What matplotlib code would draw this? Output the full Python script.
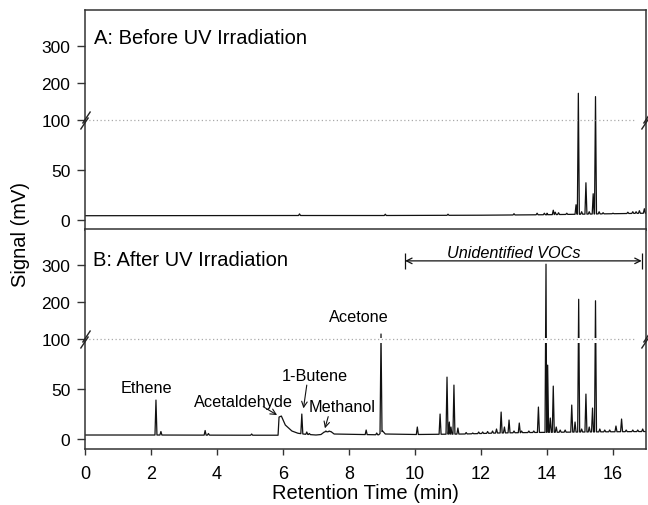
import numpy as np
import matplotlib
matplotlib.use("Agg")
import matplotlib.pyplot as plt
from matplotlib.path import Path
from matplotlib.transforms import blended_transform_factory

plt.rcParams['font.family'] = ['Liberation Sans', 'DejaVu Sans']

# ---- panel A: before UV irradiation ----
base_a_t = [0.0, 6.4, 9.0, 12.0, 14.0, 15.0, 17.0]
base_a_v = [4.0, 4.2, 4.2, 4.5, 5.0, 5.5, 6.5]
peak_a_t = [6.5, 9.1, 11.0, 13.0, 13.7, 13.92, 14.0, 14.19, 14.25, 14.35, 14.6,
            14.88, 14.95, 15.05, 15.18, 15.28, 15.40, 15.47, 15.58, 15.7, 16.0,
            16.45, 16.6, 16.7, 16.8, 16.95]
peak_a_h = [5.8, 5.5, 5.5, 6.0, 6.5, 6.5, 6.5, 9.5, 7.5, 7.0, 6.5,
            15, 172, 8, 37, 8, 26, 163, 8, 7, 6.5,
            7.5, 8, 8, 9, 11]

# ---- panel B: after UV irradiation ----
# baseline incl. acetaldehyde tailing hump and methanol bump
base_b_t = [0.0, 2.0, 5.0, 5.85, 5.88, 5.95, 6.07, 6.27, 6.45, 6.65, 7.0,
            7.15, 7.25, 7.45, 7.55, 8.9, 9.02, 9.1, 10.0, 11.5, 12.5, 13.5,
            15.0, 17.0]
base_b_v = [4.0, 4.0, 3.8, 3.8, 22.0, 23.0, 14.0, 8.0, 5.8, 4.8, 4.0,
            4.5, 7.0, 7.5, 5.0, 4.2, 8.0, 5.0, 4.5, 5.0, 6.0, 6.5,
            7.0, 7.5]
peak_b_t = [2.15, 2.30, 3.64, 3.74, 5.05, 6.57, 6.72, 6.80, 7.30, 7.40, 8.52,
            8.84, 8.97, 10.07, 10.76, 10.97, 11.04, 11.09, 11.18, 11.30, 11.55,
            11.75, 11.93, 12.05, 12.2, 12.35, 12.47, 12.61, 12.71, 12.85, 13.0,
            13.16, 13.23, 13.45, 13.6, 13.74, 13.97, 14.02, 14.10, 14.19, 14.28,
            14.4, 14.55, 14.75, 14.85, 14.96, 15.05, 15.18, 15.28, 15.38, 15.47,
            15.6, 15.75, 15.9, 16.09, 16.26, 16.4, 16.6, 16.75, 16.9]
peak_b_h = [39, 7.5, 8.5, 5.5, 5.0, 25, 7, 5.5, 8, 8, 9,
            6, 114, 12, 25, 62, 17, 12, 54, 11, 6.5,
            6, 7, 7, 7.5, 8, 10, 27, 12, 19, 8,
            16, 8, 8, 8, 32, 303, 74, 21, 53, 12,
            9, 9, 34, 17, 208, 10, 45, 12, 31, 204,
            10, 9, 9, 13, 20, 9, 9, 9, 10]

x_ticks = [0, 2, 4, 6, 8, 10, 12, 14, 16]
y_ticks = [0, 50, 100, 200, 300]


def fwd(y):
    y = np.asarray(y, dtype=float)
    return np.where(y <= 100, y, 100 + (y - 100) * 0.37)


def inv(y):
    y = np.asarray(y, dtype=float)
    return np.where(y <= 100, y, 100 + (y - 100) / 0.37)


def build_trace(bt, bv, pt, ph, hw=0.03):
    t = list(bt)
    v = list(bv)
    for p, h in zip(pt, ph):
        for tt in (p - hw, p + hw):
            t.append(tt)
            v.append(np.interp(tt, bt, bv))
        t.append(p)
        v.append(h)
    order = np.argsort(t, kind='stable')
    return np.array(t)[order], np.array(v)[order]


fig = plt.figure(figsize=(6.48, 5.06), dpi=100)
axA = fig.add_axes([0.1312, 0.5441, 0.8657, 0.4338])
axB = fig.add_axes([0.1312, 0.1107, 0.8657, 0.4338])

brk = Path([(-5, -9), (3, 3), (-3, -3), (5, 9)],
           [Path.MOVETO, Path.LINETO, Path.MOVETO, Path.LINETO])

for ax, (bt, bv, pt, ph) in zip(
        [axA, axB],
        [(base_a_t, base_a_v, peak_a_t, peak_a_h),
         (base_b_t, base_b_v, peak_b_t, peak_b_h)]):
    t, v = build_trace(bt, bv, pt, ph)
    ax.plot(t, v, color='#111111', lw=0.9, zorder=2)
    ax.set_yscale('function', functions=(fwd, inv))
    ax.set_xlim(0, 17)
    ax.set_ylim(-10, 397)
    ax.set_yticks(y_ticks)
    ax.set_yticklabels([str(y) for y in y_ticks])
    ax.yaxis.set_minor_locator(matplotlib.ticker.NullLocator())
    ax.tick_params(axis='y', direction='out', length=5.5, width=1,
                   labelsize=12.5, pad=5, color='#333333')
    for s in ax.spines.values():
        s.set_linewidth(1.1)
        s.set_color('#333333')
    ax.axhline(100, xmin=0, xmax=0.982, color='#aaaaaa', lw=0.9,
               ls=(0, (1, 2)), zorder=2.3)
    tr = blended_transform_factory(ax.transAxes, ax.transData)
    ax.plot([0, 1], [100, 100], transform=tr, marker=brk, ms=13,
            mec='#222222', mfc='none', mew=1.0, ls='none', clip_on=False,
            zorder=5)

# small gap at the break in panel B
axB.axhspan(96, 103.5, color='white', lw=0, zorder=2.2)

axA.set_xticks([])
axB.set_xticks(x_ticks)
axB.set_xticklabels([str(x) for x in x_ticks])
axB.xaxis.set_minor_locator(matplotlib.ticker.NullLocator())
axB.tick_params(axis='x', direction='out', length=4.5, width=1,
                labelsize=13, pad=7, color='#333333')
axB.set_xlabel('Retention Time (min)', fontsize=14.5, labelpad=1)
fig.text(0.031, 0.5356, 'Signal (mV)', rotation=90, ha='center',
         va='center', fontsize=14.5)

axA.text(0.28, 308, 'A: Before UV Irradiation', fontsize=14.5, va='baseline')
axB.text(0.25, 300, 'B: After UV Irradiation', fontsize=14.5, va='baseline')

# compound labels
lab = dict(ha='center', va='baseline', fontsize=11.7)
axB.text(1.87, 46.7, 'Ethene', **lab)
axB.text(4.79, 33.4, 'Acetaldehyde', **lab)
axB.text(6.95, 59, '1-Butene', **lab)
axB.text(7.80, 28.4, 'Methanol', **lab)
axB.text(8.30, 149, 'Acetone', **lab)

arrow = dict(arrowstyle='->', lw=0.8, color='#111111', shrinkA=0, shrinkB=0)
axB.annotate('', xy=(5.82, 24), xytext=(5.40, 32.4), arrowprops=arrow)
axB.annotate('', xy=(6.62, 30.7), xytext=(6.72, 54), arrowprops=arrow)
axB.annotate('', xy=(7.27, 10.7), xytext=(7.37, 22.4), arrowprops=arrow)

# unidentified VOC range
axB.annotate('', xy=(9.70, 312), xytext=(16.87, 312),
             arrowprops=dict(arrowstyle='<->', lw=0.9, color='#111111',
                             shrinkA=0, shrinkB=0))
axB.vlines([9.70, 16.87], 290, 334, color='#111111', lw=0.9)
axB.text(13.0, 323, 'Unidentified VOCs', style='italic', ha='center',
         va='baseline', fontsize=11.7)

fig.savefig('out.png', dpi=100)
